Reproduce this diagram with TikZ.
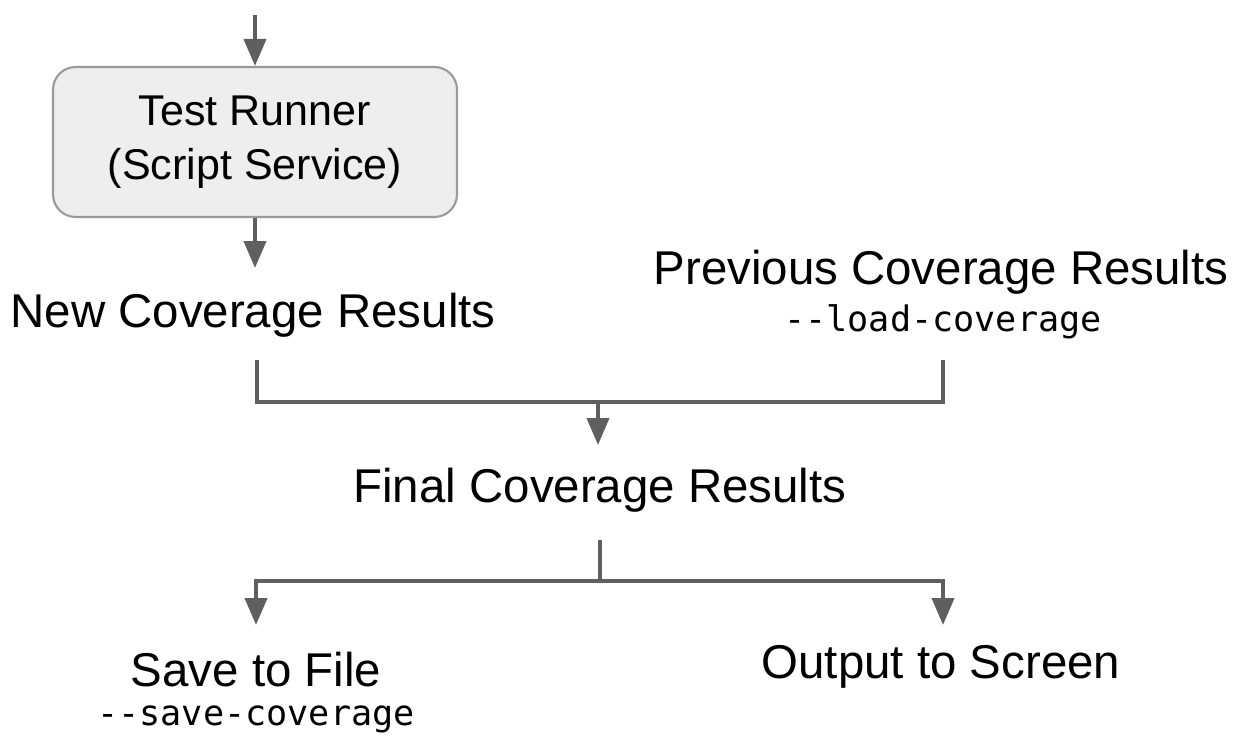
\documentclass[tikz,border=0pt]{standalone}
\usepackage{fontspec}
\setmainfont{Liberation Sans}
\setmonofont{DejaVu Sans Mono}
\usetikzlibrary{arrows.meta}

\definecolor{linegray}{HTML}{5F5F5F}
\definecolor{boxfill}{HTML}{EEEEEE}
\definecolor{boxline}{HTML}{9A9A9A}

\begin{document}
\begin{tikzpicture}[x=0.02cm, y=-0.02cm,
    label/.style={inner sep=0pt, font=\fontsize{27}{32}\selectfont},
    option/.style={inner sep=0pt, font=\fontsize{20}{24}\selectfont\ttfamily},
    runner/.style={draw=boxline, line width=1.2pt, fill=boxfill, rounded corners=0.45cm,
        minimum width=8.08cm, minimum height=3cm, align=center,
        font=\fontsize{24.5}{30.6}\selectfont},
    wire/.style={draw=linegray, line width=2.3pt},
    flow/.style={wire, -{Triangle[width=0.44cm, length=0.54cm]}}]
    \useasboundingbox (0,0) rectangle (1245,736);

    % nodes
    \node[runner] (runner) at (255,142) {Test Runner\\(Script Service)};
    \node[label] (new) at (253,315) {New Coverage Results};
    \node[label] (prev) at (941,272) {Previous Coverage Results};
    \node[option] (prevopt) at (943,322) {-{}-load-coverage};
    \node[label] (final) at (600,490) {Final Coverage Results};
    \node[label] (save) at (256,670) {Save to File};
    \node[option] (saveopt) at (256,719) {-{}-save-coverage};
    \node[label] (screen) at (941,667) {Output to Screen};

    % connector ends
    \coordinate (in) at (255,15);
    \coordinate (newin) at (255,268);
    \coordinate (newout) at (257,360);
    \coordinate (prevout) at (943,360);
    \coordinate (merge) at (598,402);
    \coordinate (finalin) at (598,445);
    \coordinate (finalout) at (600,540);
    \coordinate (split) at (600,581);
    \coordinate (savein) at (256,625);
    \coordinate (screenin) at (943,625);

    % connectors
    \draw[flow] (in) -- (runner.north);
    \draw[flow] (runner.south) -- (newin);
    \draw[wire] (newout) -- (newout |- merge) -- (prevout |- merge) -- (prevout);
    \draw[flow] (merge) -- (finalin);
    \draw[wire] (finalout) -- (split);
    \draw[flow] (split) -| (savein);
    \draw[flow] (split) -| (screenin);
\end{tikzpicture}
\end{document}
